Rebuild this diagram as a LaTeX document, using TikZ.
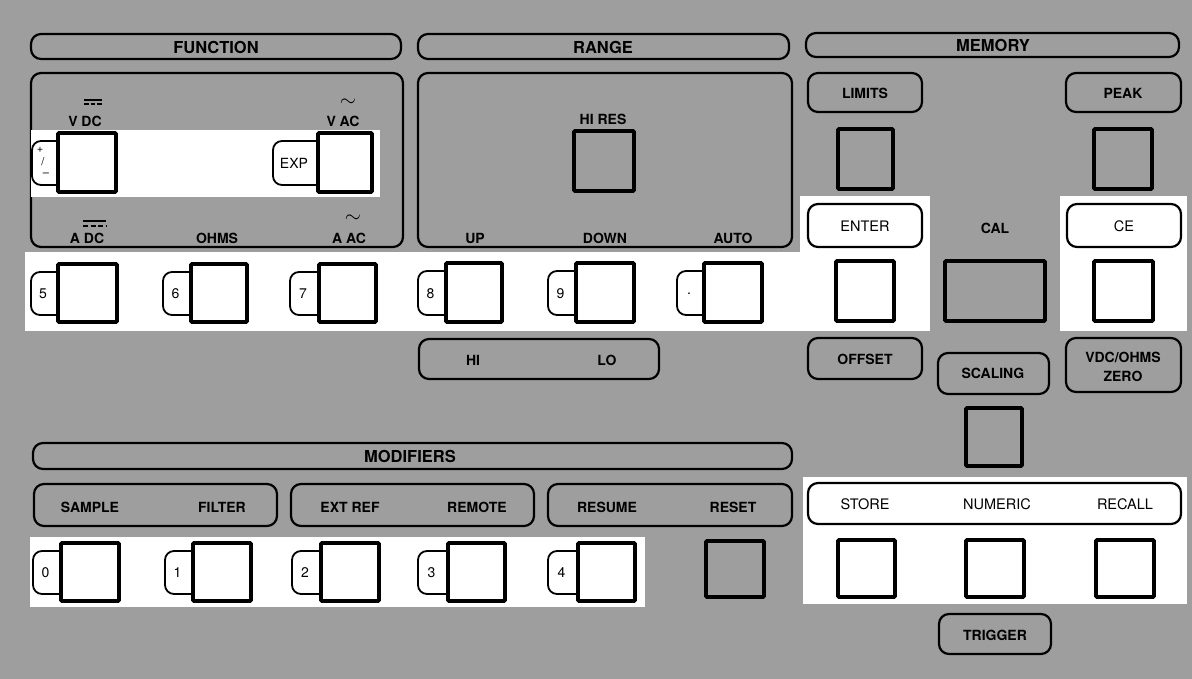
\documentclass[tikz,border=0pt]{standalone}
\usepackage{fontspec}
\setmainfont{TeX Gyre Heros}
\definecolor{ht}{gray}{0.62}
\newcommand{\bx}[6]{\node[#6, minimum width={#4-#2-2}, minimum height={#5-#3-2}] (#1) at ({(#2+#4)/2},{(#3+#5)/2}) {};}
\newcommand{\tk}[7]{%
  \path[tabline] ({#2+2},{#3+9}) -- ({#2-#6},{#3+9}) -- ({#2-#6},{#5-8}) -- ({#2+2},{#5-8});
  \bx{#1}{#2}{#3}{#4}{#5}{keysq}
  \node[tablbl] (#1-l) at ({#2-#6/2-1},{(#3+#5)/2+1}) {#7};}
\begin{document}
\begin{tikzpicture}[x=1pt,y=-1pt,
  bar/.style={draw, line width=2.2pt, rounded corners=10pt, fill=ht, inner sep=0pt},
  wbar/.style={bar, fill=white},
  keysq/.style={draw, line width=3.6pt, fill=white, inner sep=0pt, rounded corners=1pt},
  gkeysq/.style={keysq, fill=ht},
  tabline/.style={draw, fill=white, line width=1.8pt, rounded corners=9pt},
  tablbl/.style={font=\fontsize{14}{16}\selectfont, inner sep=0pt},
  pmlbl/.style={font=\fontsize{11}{11}\selectfont, inner sep=0pt},
  hdr/.style={font=\bfseries\fontsize{16.5}{18}\selectfont, inner sep=0pt},
  lbl/.style={font=\bfseries\fontsize{14}{16}\selectfont, inner sep=0pt},
  wlbl/.style={font=\fontsize{14.5}{16}\selectfont, inner sep=0pt},
  tld/.style={font=\bfseries\fontsize{22}{22}\selectfont, inner sep=0pt}]
\useasboundingbox (0,0) rectangle (1192,679);
\fill[ht] (0,0) rectangle (1192,679);
% ---------- FUNCTION / RANGE / MEMORY headers
\bx{fnh}{30}{33}{402}{60}{bar}
\node[hdr] (fnht) at (216,47) {FUNCTION};
\bx{rgh}{417}{33}{790}{60}{bar}
\node[hdr] (rght) at (603,47) {RANGE};
\bx{memh}{805}{32}{1180}{58}{bar}
\node[hdr] (memht) at (993,45) {MEMORY};
% ---------- big boxes
\bx{fnbox}{30}{72}{404}{248}{bar}
\bx{rgbox}{417}{72}{793}{248}{bar}
% ---------- white panels
\fill[white] (31,130) rectangle (380,197);
\fill[white] (25,252) rectangle (800,331);
\fill[white] (800,196) rectangle (930,331);
\fill[white] (1060,196) rectangle (1187,331);
\fill[white] (803,477) rectangle (1187,604);
\fill[white] (30,537) rectangle (645,607);
% ---------- FUNCTION contents
\tk{vdc}{57}{132}{117}{193}{25}{}
\node[pmlbl] (pm1) at (40,150) {+};
\node[pmlbl] (pm2) at (43,162) {/};
\node[pmlbl] (pm3) at (46,175) {\textendash};
\tk{vac}{317}{132}{373}{193}{44}{EXP}
\node[lbl] (vdct) at (85,121) {V DC};
\draw[line width=1.4pt] (84,100) -- (102,100);
\draw[line width=1.4pt, dash pattern=on 4.5pt off 2pt] (84,104) -- (102,104);
\node[lbl] (vact) at (343,121) {V AC};
\node[tld] (vacs) at (348,103) {$\sim$};
\node[lbl] (adct) at (87,238) {A DC};
\draw[line width=1.4pt] (83,221) -- (106,221);
\draw[line width=1.4pt, dash pattern=on 5pt off 2.5pt] (83,226) -- (106,226);
\node[lbl] (ohmt) at (217,238) {OHMS};
\node[lbl] (aact) at (349,238) {A AC};
\node[tld] (aacs) at (353,219) {$\sim$};
% ---------- RANGE contents
\bx{hires}{573}{130}{635}{192}{gkeysq}
\node[lbl] (hirest) at (603,119) {HI RES};
\node[lbl] (upt) at (475,238) {UP};
\node[lbl] (downt) at (605,238) {DOWN};
\node[lbl] (autot) at (733,238) {AUTO};
% ---------- key row 5..9 .
\tk{k5}{57}{263}{118}{323}{26}{5}
\tk{k6}{190}{263}{248}{323}{27}{6}
\tk{k7}{318}{263}{377}{323}{28}{7}
\tk{k8}{445}{262}{503}{323}{27}{8}
\tk{k9}{575}{262}{635}{323}{27}{9}
\tk{kdot}{703}{262}{763}{323}{26}{.}
% ---------- HI / LO
\bx{hilo}{418}{338}{660}{380}{bar}
\node[lbl] (hit) at (473,360) {HI};
\node[lbl] (lot) at (607,360) {LO};
% ---------- MEMORY contents
\bx{limits}{807}{72}{923}{113}{bar}
\node[lbl] (limitst) at (865,93) {LIMITS};
\bx{peak}{1065}{72}{1182}{113}{bar}
\node[lbl] (peakt) at (1123,93) {PEAK};
\bx{klim}{837}{128}{894}{190}{gkeysq}
\bx{kpeak}{1093}{128}{1153}{190}{gkeysq}
\bx{enter}{807}{203}{923}{248}{wbar}
\node[wlbl] (entert) at (865,226) {ENTER};
\bx{kenter}{835}{260}{895}{322}{keysq}
\node[lbl] (calt) at (995,228) {CAL};
\bx{kcal}{944}{260}{1046}{322}{gkeysq}
\bx{ce}{1066}{203}{1182}{248}{wbar}
\node[wlbl] (cet) at (1124,226) {CE};
\bx{kce}{1093}{260}{1154}{322}{keysq}
\bx{offset}{807}{337}{923}{380}{bar}
\node[lbl] (offsett) at (865,359) {OFFSET};
\bx{scaling}{937}{352}{1050}{395}{bar}
\node[lbl] (scalingt) at (993,373) {SCALING};
\bx{zero}{1065}{337}{1182}{393}{bar}
\node[lbl] (zerot1) at (1123,357) {VDC/OHMS};
\node[lbl] (zerot2) at (1123,376) {ZERO};
\bx{kscal}{965}{407}{1023}{467}{gkeysq}
\bx{snr}{807}{482}{1182}{525}{wbar}
\node[wlbl] (storet) at (865,504) {STORE};
\node[wlbl] (numt) at (997,504) {NUMERIC};
\node[wlbl] (recallt) at (1125,504) {RECALL};
\bx{kstore}{837}{539}{896}{598}{keysq}
\bx{knum}{965}{539}{1025}{598}{keysq}
\bx{krecall}{1095}{539}{1155}{598}{keysq}
\bx{trigger}{938}{613}{1052}{655}{bar}
\node[lbl] (triggert) at (995,635) {TRIGGER};
% ---------- MODIFIERS
\bx{modh}{32}{442}{793}{470}{bar}
\node[hdr] (modht) at (410,456) {MODIFIERS};
\bx{sf}{33}{483}{278}{527}{bar}
\node[lbl] (samplet) at (90,507) {SAMPLE};
\node[lbl] (filtert) at (222,507) {FILTER};
\bx{er}{290}{483}{535}{527}{bar}
\node[lbl] (extreft) at (350,507) {EXT REF};
\node[lbl] (remotet) at (477,507) {REMOTE};
\bx{rr}{547}{483}{793}{527}{bar}
\node[lbl] (resumet) at (607,507) {RESUME};
\node[lbl] (resett) at (733,507) {RESET};
% ---------- key row 0..4
\tk{k0}{60}{542}{120}{602}{27}{0}
\tk{k1}{192}{542}{252}{602}{27}{1}
\tk{k2}{320}{542}{380}{602}{28}{2}
\tk{k3}{447}{542}{506}{602}{29}{3}
\tk{k4}{577}{542}{636}{602}{29}{4}
\bx{kreset}{705}{540}{765}{598}{gkeysq}
\end{tikzpicture}
\end{document}
